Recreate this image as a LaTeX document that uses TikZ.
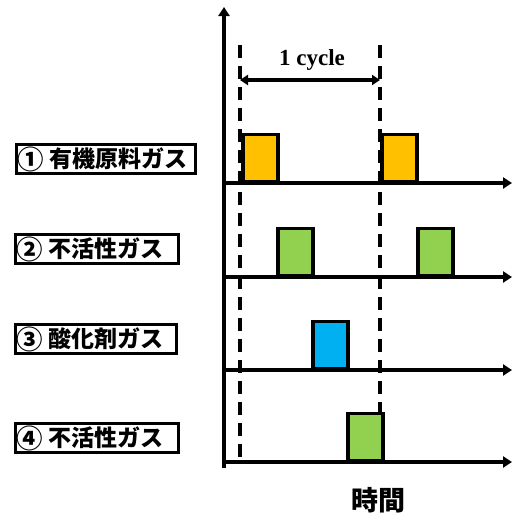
\documentclass[tikz,border=0pt]{standalone}
\usepackage{fontspec}
\setmainfont{Liberation Serif}
\newfontfamily\cjk{Noto Sans CJK JP}
\usetikzlibrary{arrows.meta}
\definecolor{yel}{HTML}{FFC000}
\definecolor{grn}{HTML}{92D050}
\definecolor{blu}{HTML}{00B0F0}
\newcommand{\cnum}[1]{\raisebox{-0.08em}{\scalebox{1.15}{#1}}}
\tikzset{
  axis/.style={line width=4.5pt, -{Triangle[length=9pt,width=11pt]}},
  guide/.style={line width=3.5pt, dash pattern=on 13pt off 8pt},
  pulse/.style={draw, line width=3.5pt, inner sep=0pt, minimum width=35, minimum height=47, anchor=south west},
  labelbox/.style={draw, line width=3.5pt, inner xsep=1.5pt, inner ysep=0pt, minimum height=29, anchor=west, font=\cjk\bfseries\fontsize{23}{23}\selectfont},
}
\begin{document}
\begin{tikzpicture}[x=1pt,y=-1pt]
\useasboundingbox (0,0) rectangle (512,517);
% dashed guides
\coordinate (d1t) at (240,45);
\coordinate (d1b) at (240,462);
\coordinate (d2t) at (380,45);
\coordinate (d2b) at (380,462);
\draw[guide] (d1t) -- (d1b);
\draw[guide] (d2t) -- (d2b);
% pulses
\node[pulse, fill=yel] (p1a) at (241,183) {};
\node[pulse, fill=yel] (p1b) at (380,183) {};
\node[pulse, fill=grn] (p2a) at (276,277) {};
\node[pulse, fill=grn] (p2b) at (416,277) {};
\node[pulse, fill=blu] (p3) at (311,370) {};
\node[pulse, fill=grn] (p4) at (346,462) {};
% axes
\coordinate (vb) at (224,468);
\coordinate (vt) at (224,7);
\draw[axis] (vb) -- (vt);
\foreach \n/\y in {1/183,2/277,3/370,4/462}{
  \coordinate (h\n s) at (222,\y);
  \coordinate (h\n e) at (512,\y);
  \draw[axis] (h\n s) -- (h\n e);
}
% cycle arrow
\coordinate (c1) at (240,80);
\coordinate (c2) at (380,80);
\draw[line width=3.5pt, {Triangle[length=8pt,width=10pt]}-{Triangle[length=8pt,width=10pt]}] (c1) -- (c2);
\node[font=\bfseries\fontsize{23}{23}\selectfont] (cyc) at (312,60) {1 cycle};
% labels
\node[labelbox] (l1) at (14.5,159) {\makebox[176pt][l]{\cnum{①} 有機原料ガス}};
\node[labelbox] (l2) at (13.5,249) {\makebox[160pt][l]{\cnum{②} 不活性ガス}};
\node[labelbox] (l3) at (13.5,339) {\makebox[158pt][l]{\cnum{③} 酸化剤ガス}};
\node[labelbox] (l4) at (13.5,438) {\makebox[160pt][l]{\cnum{④} 不活性ガス}};
\node[font=\cjk\bfseries\fontsize{27}{27}\selectfont] (time) at (378,500) {時間};
\end{tikzpicture}
\end{document}
